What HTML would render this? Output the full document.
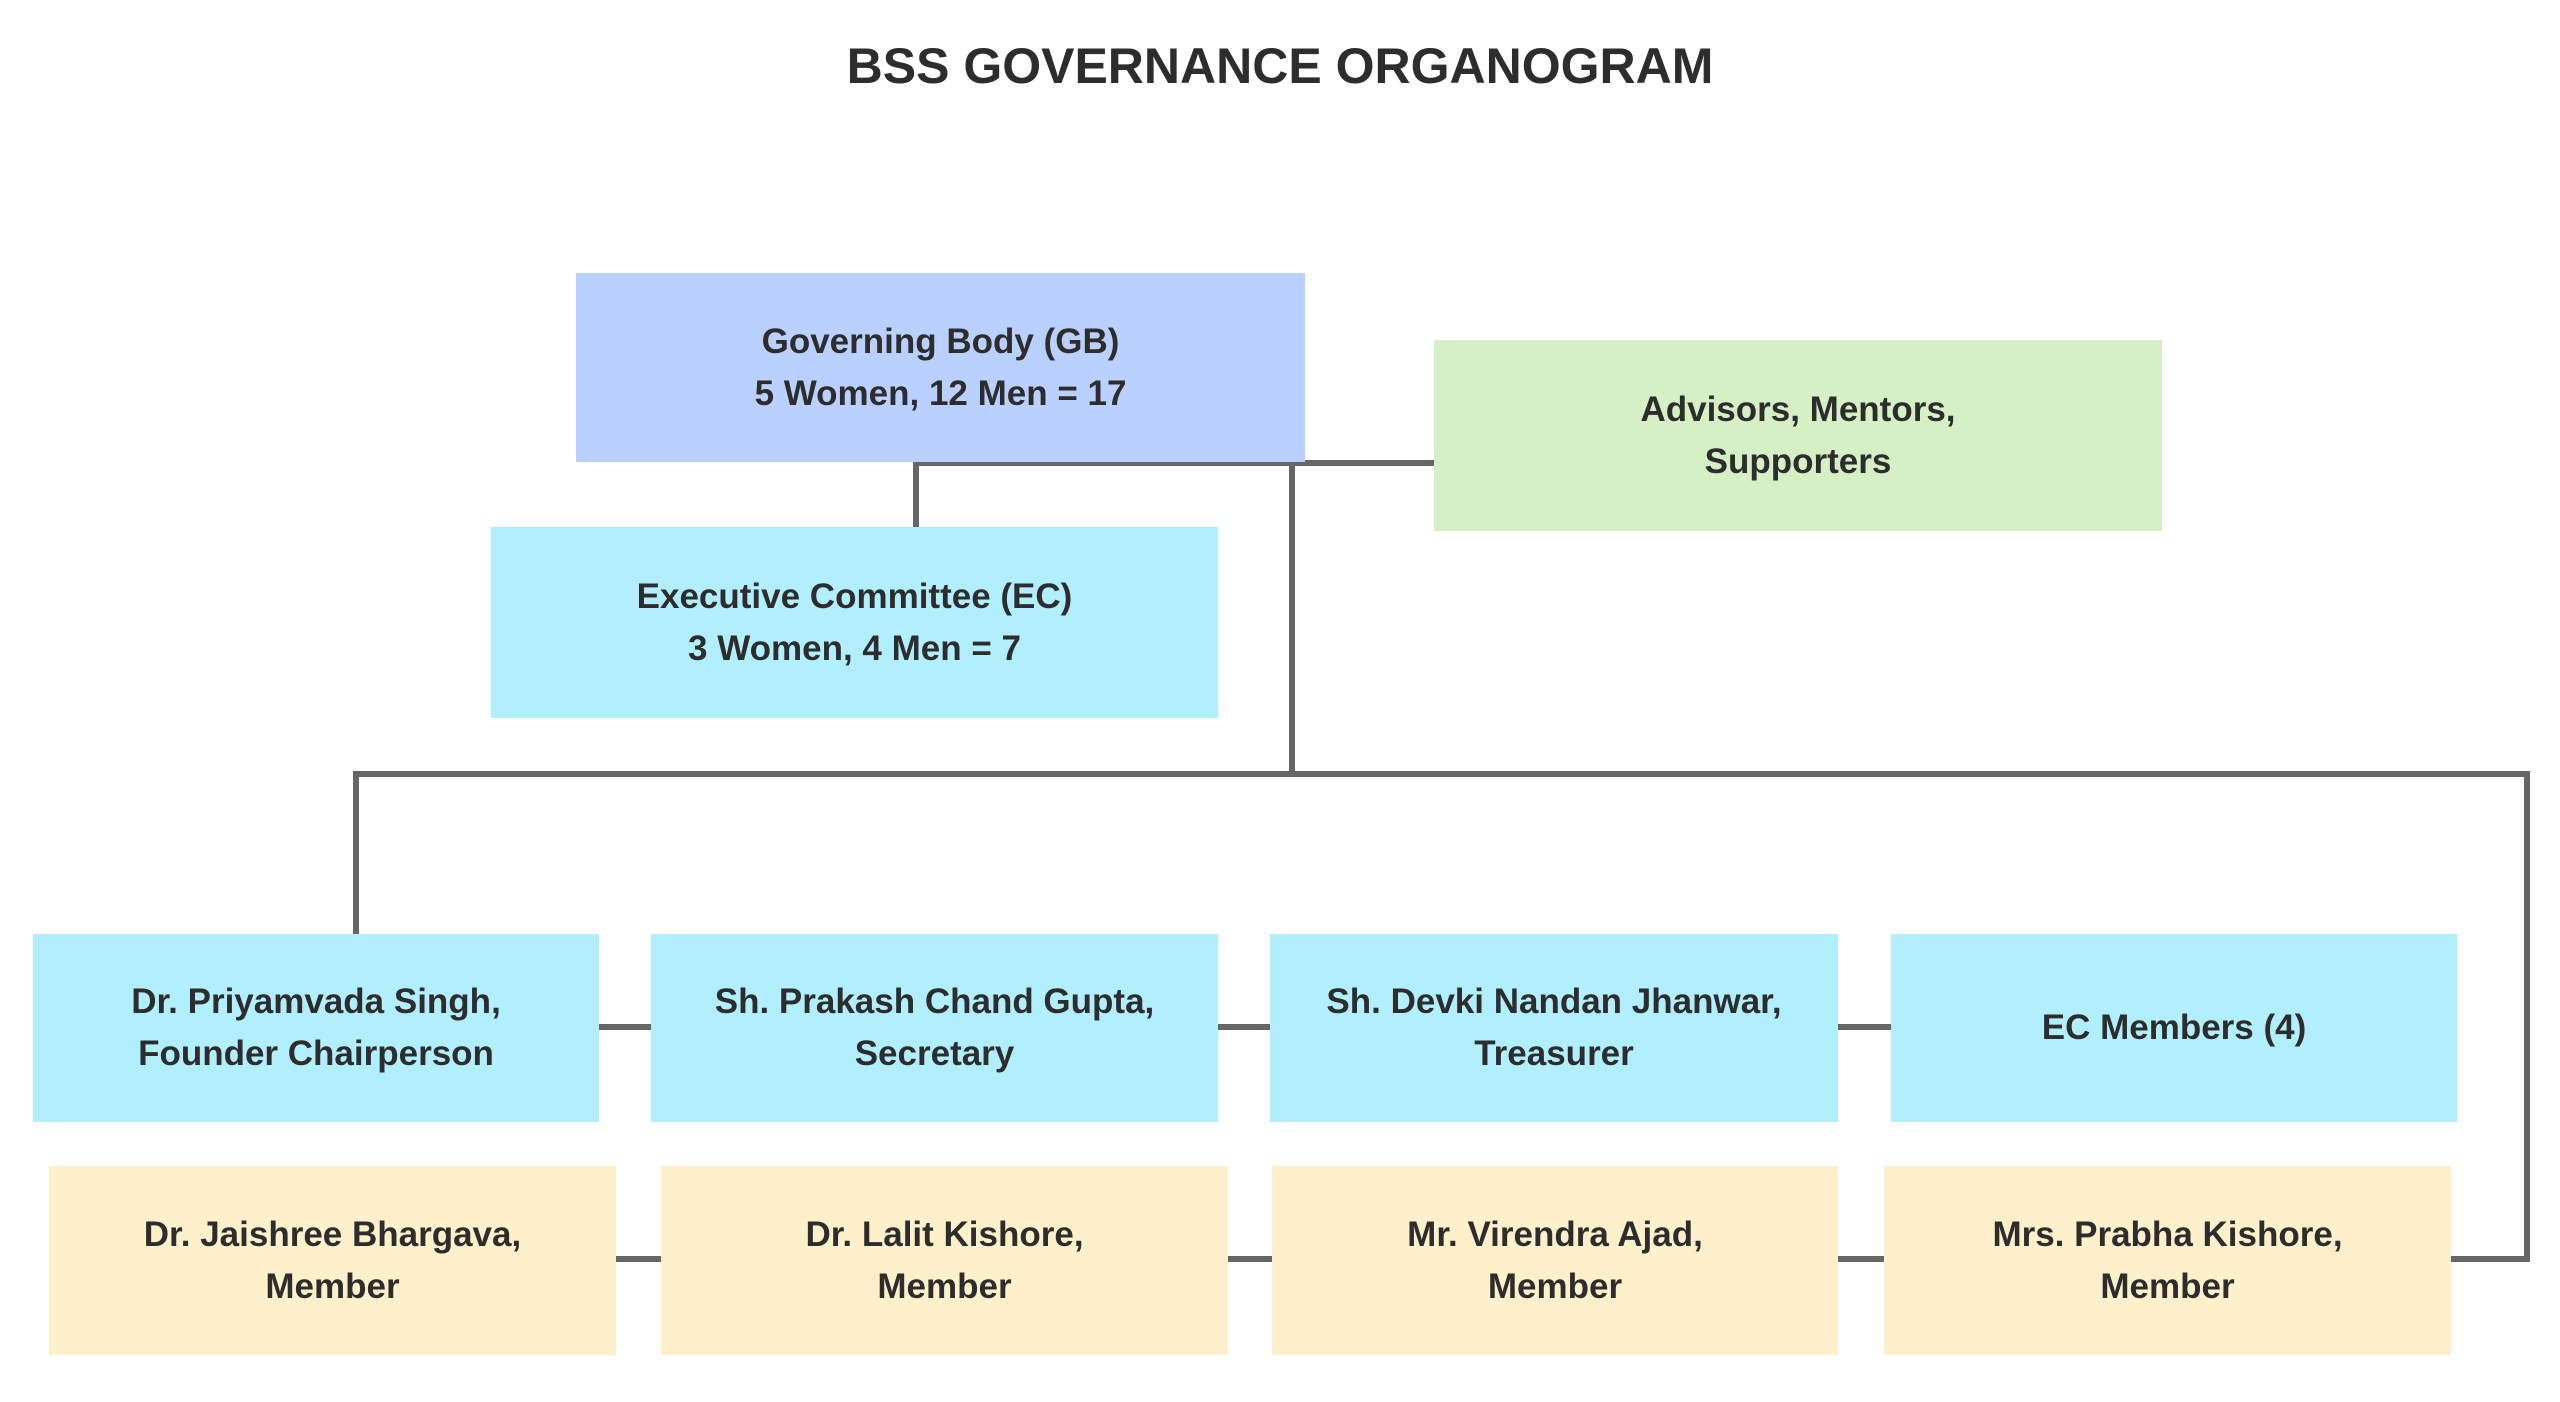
<!DOCTYPE html>
<html><head><meta charset="utf-8"><style>
html,body{margin:0;padding:0;background:#fff;}
#c{position:relative;width:2560px;height:1402px;overflow:hidden;font-family:"Liberation Sans",sans-serif;}
.b{position:absolute;display:flex;align-items:center;justify-content:center;text-align:center;font-weight:bold;font-size:35px;line-height:52px;color:#2d2d2d;}
.t{position:absolute;left:0;width:2560px;top:37px;text-align:center;font-weight:bold;font-size:50px;color:#2d2d2d;}
</style></head><body><div id="c">
<div class="t">BSS GOVERNANCE ORGANOGRAM</div>
<svg width="2560" height="1402" style="position:absolute;left:0;top:0">
<g stroke="#666" stroke-width="6" fill="none">
<path d="M916 527 V463 H1434"/>
<path d="M1292 463 V774"/>
<path d="M356 934 V774 H2527 V1259 H2451"/>
<path d="M599 1027 H651 M1218 1027 H1270 M1838 1027 H1891"/>
<path d="M616 1259 H661 M1228 1259 H1272 M1838 1259 H1884"/>
</g></svg>
<div class="b" style="left:576px;top:273px;width:729px;height:189px;background:#bad1ff">Governing Body (GB)<br>5 Women, 12 Men = 17</div>
<div class="b" style="left:1434px;top:340px;width:728px;height:191px;background:#d5f0c4">Advisors, Mentors,<br>Supporters</div>
<div class="b" style="left:491px;top:527px;width:727px;height:191px;background:#b2effe">Executive Committee (EC)<br>3 Women, 4 Men = 7</div>
<div class="b" style="left:33px;top:934px;width:566px;height:188px;background:#b2effe">Dr. Priyamvada Singh,<br>Founder Chairperson</div>
<div class="b" style="left:651px;top:934px;width:567px;height:188px;background:#b2effe">Sh. Prakash Chand Gupta,<br>Secretary</div>
<div class="b" style="left:1270px;top:934px;width:568px;height:188px;background:#b2effe">Sh. Devki Nandan Jhanwar,<br>Treasurer</div>
<div class="b" style="left:1891px;top:934px;width:566px;height:188px;background:#b2effe">EC Members (4)</div>
<div class="b" style="left:49px;top:1166px;width:567px;height:189px;background:#fef0ca">Dr. Jaishree Bhargava,<br>Member</div>
<div class="b" style="left:661px;top:1166px;width:567px;height:189px;background:#fef0ca">Dr. Lalit Kishore,<br>Member</div>
<div class="b" style="left:1272px;top:1166px;width:566px;height:189px;background:#fef0ca">Mr. Virendra Ajad,<br>Member</div>
<div class="b" style="left:1884px;top:1166px;width:567px;height:189px;background:#fef0ca">Mrs. Prabha Kishore,<br>Member</div>
</div></body></html>
